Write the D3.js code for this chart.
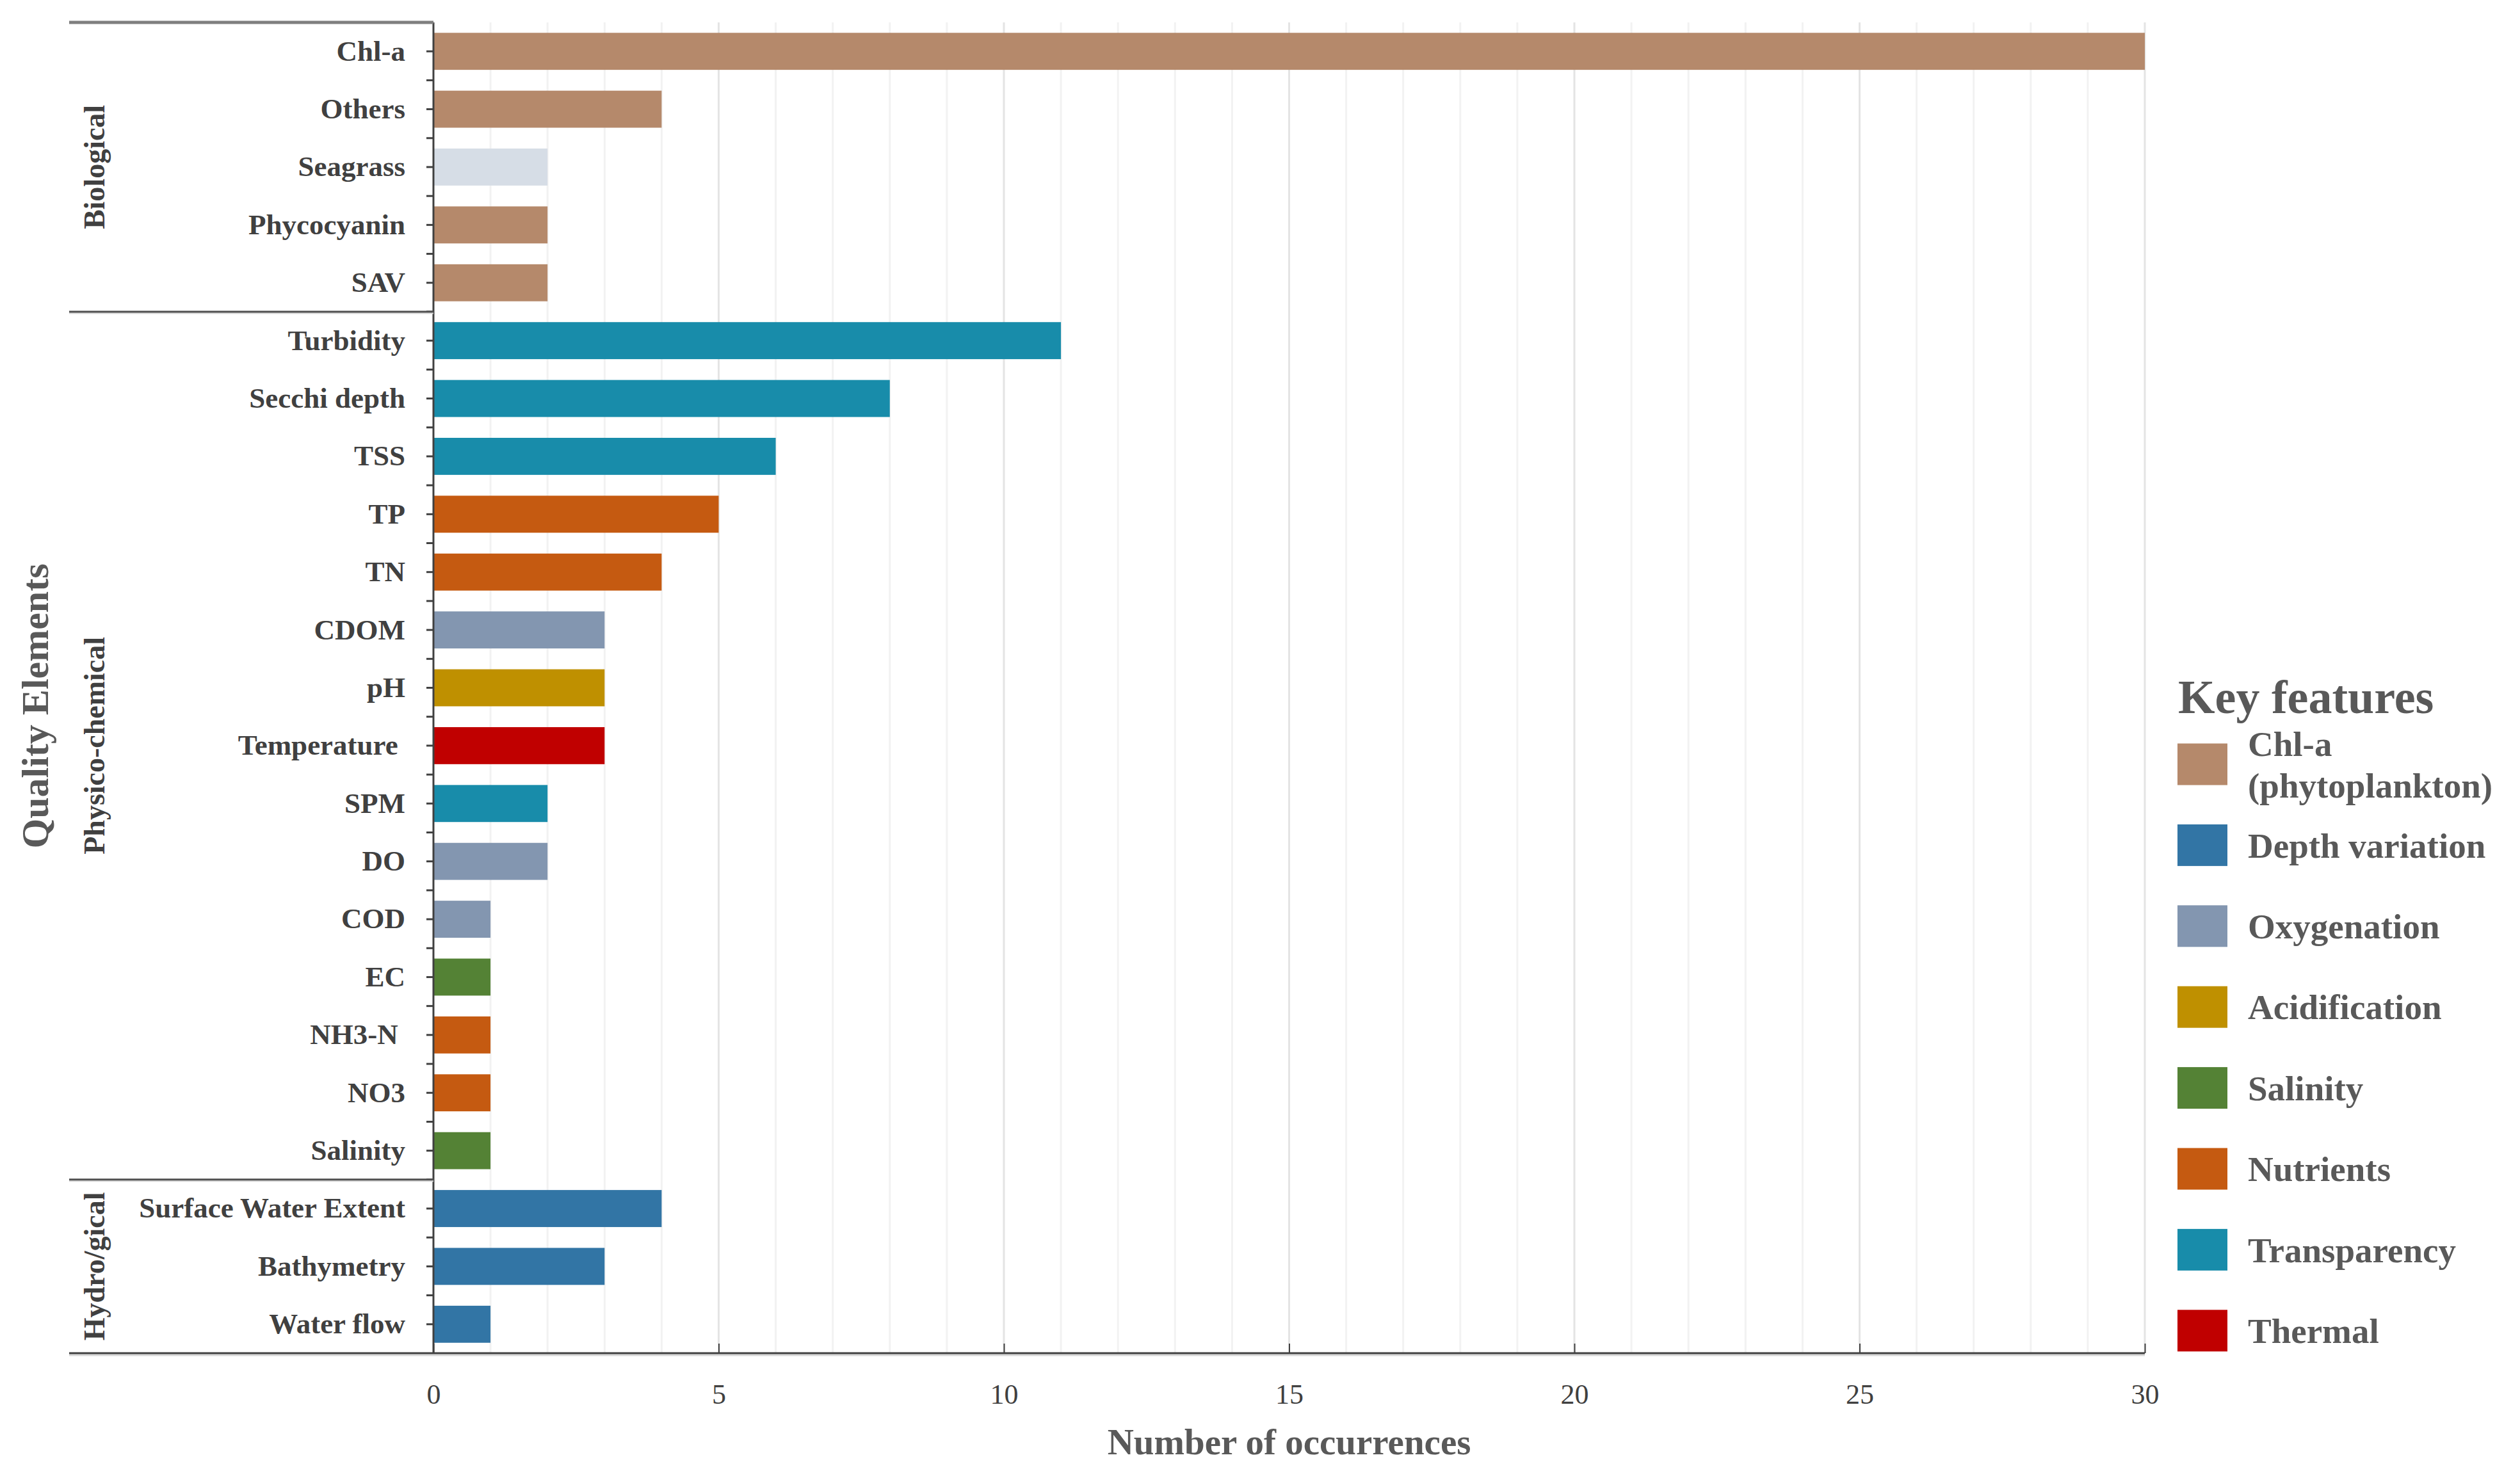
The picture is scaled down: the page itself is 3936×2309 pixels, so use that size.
<!DOCTYPE html>
<html>
<head>
<meta charset="utf-8">
<script src="https://cdn.jsdelivr.net/npm/d3@7"></script>
<style>
  html, body { margin: 0; padding: 0; background: #ffffff; }
  svg { display: block; }
  text { font-family: "Liberation Serif", "Times New Roman", serif; }
</style>
</head>
<body>
<svg id="chart" width="3936" height="2309"></svg>
<script>
// ---------------- DATA ----------------
const categories = [
  "Chl-a", "Others", "Seagrass", "Phycocyanin", "SAV",
  "Turbidity", "Secchi depth", "TSS", "TP", "TN", "CDOM", "pH", "Temperature ",
  "SPM", "DO", "COD", "EC", "NH3-N ", "NO3", "Salinity",
  "Surface Water Extent", "Bathymetry", "Water flow"
];
const values = [30, 4, 2, 2, 2, 11, 8, 6, 5, 4, 3, 3, 3, 2, 2, 1, 1, 1, 1, 1, 4, 3, 1];
const features = [
  "Chl-a", "Chl-a", "Seagrass", "Chl-a", "Chl-a",
  "Transparency", "Transparency", "Transparency", "Nutrients", "Nutrients",
  "Oxygenation", "Acidification", "Thermal", "Transparency", "Oxygenation",
  "Oxygenation", "Salinity", "Nutrients", "Nutrients", "Salinity",
  "Depth variation", "Depth variation", "Depth variation"
];
const groupNames = ["Biological", "Physico-chemical", "Hydro/gical"];
const groupSizes = [5, 15, 3];
const xTicks = [0, 5, 10, 15, 20, 25, 30];
const xMinorTicks = d3.range(1, 31);
const legendKeys = ["Chl-a", "Depth variation", "Oxygenation", "Acidification",
                    "Salinity", "Nutrients", "Transparency", "Thermal"];
const legendLabels = [["Chl-a", "(phytoplankton)"], ["Depth variation"], ["Oxygenation"],
                      ["Acidification"], ["Salinity"], ["Nutrients"], ["Transparency"], ["Thermal"]];
const featureColors = {
  "Chl-a": "#b5896b",
  "Depth variation": "#3275a5",
  "Oxygenation": "#8396b0",
  "Acidification": "#bf9000",
  "Salinity": "#548235",
  "Nutrients": "#c55a11",
  "Transparency": "#188caa",
  "Thermal": "#c00000",
  "Seagrass": "#d6dde6"
};

// ---------------- LAYOUT ----------------
const svg = d3.select("#chart");
const plotLeft = 677, plotRight = 3350, plotTop = 35, plotBottom = 2114;
const groupLeft = 108;
const axisColor = "#404040";
const textColor = "#404040";
const titleColor = "#595959";

const x = d3.scaleLinear().domain([0, 30]).range([plotLeft, plotRight]);
const y = d3.scaleBand().domain(categories).range([plotTop, plotBottom])
  .paddingInner(0.36).paddingOuter(0.18);

// gridlines
svg.append("g").selectAll("line").data(xMinorTicks).join("line")
  .attr("x1", d => x(d)).attr("x2", d => x(d))
  .attr("y1", plotTop).attr("y2", plotBottom)
  .attr("stroke", d => d % 5 === 0 ? "#e4e4e4" : "#f2f2f2")
  .attr("stroke-width", 3);

// bars
svg.append("g").selectAll("rect").data(categories).join("rect")
  .attr("x", x(0))
  .attr("y", d => y(d))
  .attr("width", (d, i) => x(values[i]) - x(0))
  .attr("height", y.bandwidth())
  .attr("fill", (d, i) => featureColors[features[i]]);

// y axis
const yAxis = d3.axisLeft(y).tickSize(11).tickPadding(33);
const gy = svg.append("g").attr("transform", `translate(${plotLeft},0)`).call(yAxis);
gy.select(".domain").remove();
gy.selectAll(".tick line").attr("stroke", axisColor).attr("stroke-width", 3);
gy.selectAll(".tick text")
  .attr("fill", textColor)
  .attr("font-size", 45)
  .attr("font-weight", "bold")
  .style("white-space", "pre");

// boundary ticks between categories
const step = y.step();
svg.append("g").selectAll("line").data(d3.range(1, categories.length)).join("line")
  .attr("x1", plotLeft - 11).attr("x2", plotLeft)
  .attr("y1", k => plotTop + k * step).attr("y2", k => plotTop + k * step)
  .attr("stroke", axisColor).attr("stroke-width", 3);

// y axis line
svg.append("line")
  .attr("x1", plotLeft).attr("x2", plotLeft)
  .attr("y1", plotTop).attr("y2", plotBottom)
  .attr("stroke", axisColor).attr("stroke-width", 3);

// x axis
const xAxis = d3.axisBottom(x).tickValues(xTicks).tickSizeInner(-15).tickSizeOuter(0).tickPadding(48);
const gx = svg.append("g").attr("transform", `translate(0,${plotBottom})`).call(xAxis);
gx.select(".domain").remove();
gx.selectAll(".tick line").attr("stroke", axisColor).attr("stroke-width", 2);
gx.selectAll(".tick text")
  .attr("fill", textColor)
  .attr("font-size", 44);

// group dividers & group labels
let cum = 0;
const boundaries = [0];
groupSizes.forEach(s => { cum += s; boundaries.push(cum); });
svg.append("line")
  .attr("x1", groupLeft).attr("x2", plotLeft)
  .attr("y1", plotTop).attr("y2", plotTop)
  .attr("stroke", "#7f7f7f").attr("stroke-width", 5);
boundaries.slice(1, -1).forEach(b => {
  const yy = plotTop + b * step;
  svg.append("line")
    .attr("x1", groupLeft).attr("x2", plotLeft)
    .attr("y1", yy + 2).attr("y2", yy + 2)
    .attr("stroke", "#d8d8d8").attr("stroke-width", 3);
  svg.append("line")
    .attr("x1", groupLeft).attr("x2", plotLeft)
    .attr("y1", yy).attr("y2", yy)
    .attr("stroke", "#505050").attr("stroke-width", 3);
});
// bottom axis line (spans group area too)
svg.append("line")
  .attr("x1", groupLeft).attr("x2", plotRight)
  .attr("y1", plotBottom + 3).attr("y2", plotBottom + 3)
  .attr("stroke", "#d8d8d8").attr("stroke-width", 3);
svg.append("line")
  .attr("x1", groupLeft).attr("x2", plotRight)
  .attr("y1", plotBottom).attr("y2", plotBottom)
  .attr("stroke", axisColor).attr("stroke-width", 3);

groupNames.forEach((g, i) => {
  const yc = plotTop + (boundaries[i] + boundaries[i + 1]) / 2 * step;
  svg.append("text")
    .attr("transform", `translate(148,${yc}) rotate(-90)`)
    .attr("text-anchor", "middle")
    .attr("dy", "0.33em")
    .attr("font-size", 46)
    .attr("font-weight", "bold")
    .attr("fill", textColor)
    .text(g);
});

// axis titles
svg.append("text")
  .attr("transform", `translate(54,1103) rotate(-90)`)
  .attr("text-anchor", "middle")
  .attr("dy", "0.35em")
  .attr("font-size", 60)
  .attr("font-weight", "bold")
  .attr("fill", titleColor)
  .text("Quality Elements");

svg.append("text")
  .attr("x", (plotLeft + plotRight) / 2)
  .attr("y", 2252)
  .attr("text-anchor", "middle")
  .attr("dy", "0.35em")
  .attr("font-size", 57)
  .attr("font-weight", "bold")
  .attr("fill", titleColor)
  .text("Number of occurrences");

// legend
const legendX = 3401, legendTop = 1194, legendStep = 126.4;
svg.append("text")
  .attr("x", 3402).attr("y", 1088)
  .attr("dy", "0.35em")
  .attr("font-size", 74)
  .attr("font-weight", "bold")
  .attr("fill", titleColor)
  .text("Key features");

const lg = svg.append("g").selectAll("g").data(legendKeys).join("g")
  .attr("transform", (d, i) => `translate(${legendX},${legendTop + i * legendStep})`);
lg.append("rect")
  .attr("x", 0).attr("y", -32.5)
  .attr("width", 78).attr("height", 65)
  .attr("fill", d => featureColors[d]);
lg.each(function (d, i) {
  const lines = legendLabels[i];
  const t = d3.select(this).append("text")
    .attr("x", 110)
    .attr("font-size", 55)
    .attr("font-weight", "bold")
    .attr("fill", titleColor);
  const lh = 65;
  const startY = -(lines.length - 1) * lh / 2;
  lines.forEach((ln, j) => {
    t.append("tspan").attr("x", 110).attr("y", startY + j * lh).attr("dy", "0.35em").text(ln);
  });
});
</script>
</body>
</html>
